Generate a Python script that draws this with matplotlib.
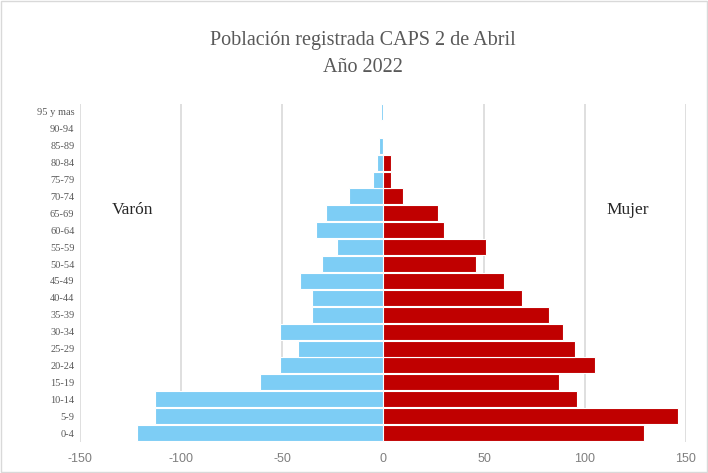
import matplotlib.pyplot as plt
from matplotlib.patches import Rectangle

# grupos de edad (de abajo hacia arriba)
grupos = ['0-4', '5-9', '10-14', '15-19', '20-24', '25-29', '30-34', '35-39',
          '40-44', '45-49', '50-54', '55-59', '60-64', '65-69', '70-74',
          '75-79', '80-84', '85-89', '90-94', '95 y mas']
varon = [122, 113, 113, 61, 51, 42, 51, 35, 35, 41, 30, 23, 33, 28, 17,
         5, 3, 2, 0, 1]
mujer = [129, 146, 96, 87, 105, 95, 89, 82, 69, 60, 46, 51, 30, 27, 10,
         4, 4, 0, 0, 0]
x_ticks = [-150, -100, -50, 0, 50, 100, 150]

azul = '#7DCDF5'
rojo = '#C00000'
serif = 'Liberation Serif'

fig = plt.figure(figsize=(7.08, 4.73), dpi=100)
ax = fig.add_axes([80 / 708, 1 - 441.5 / 473, 606 / 708, 338 / 473])

pos = list(range(len(grupos)))
ax.barh(pos, [-v for v in varon], height=0.95, color=azul,
        edgecolor='white', linewidth=0.8, zorder=3)
ax.barh(pos, mujer, height=0.95, color=rojo,
        edgecolor='white', linewidth=0.8, zorder=3)

ax.set_xlim(-150, 150)
ax.set_ylim(-0.5, len(grupos) - 0.5)
ax.set_xticks(x_ticks)
ax.set_xticklabels([str(t) for t in x_ticks], fontsize=9, color='#7f7f7f',
                   family='Liberation Sans')
ax.set_yticks(pos)
ax.set_yticklabels(grupos, fontsize=7.5, color='#595959', family=serif)
ax.tick_params(axis='both', length=0, pad=4)
ax.tick_params(axis='x', pad=8)

for t in x_ticks:
    if t != 0:
        ax.axvline(t, color='#d9d9d9', linewidth=1.2, zorder=1)

for s in ax.spines.values():
    s.set_visible(False)

ax.text(-124, 13.2, 'Varón', fontsize=12.5, family=serif, ha='center',
        va='center', color='#262626')
ax.text(121, 13.2, 'Mujer', fontsize=12.5, family=serif, ha='center',
        va='center', color='#262626')

fig.text(363 / 708, 1 - 40 / 473, 'Población registrada CAPS 2 de Abril',
         fontsize=14.5, family=serif, ha='center', va='center', color='#595959')
fig.text(363 / 708, 1 - 67 / 473, 'Año 2022',
         fontsize=14.5, family=serif, ha='center', va='center', color='#595959')

fig.patches.append(Rectangle((0.002, 0.002), 0.996, 0.996,
                             transform=fig.transFigure, fill=False,
                             edgecolor='#d9d9d9', linewidth=1))

plt.savefig('out.png', dpi=100)
